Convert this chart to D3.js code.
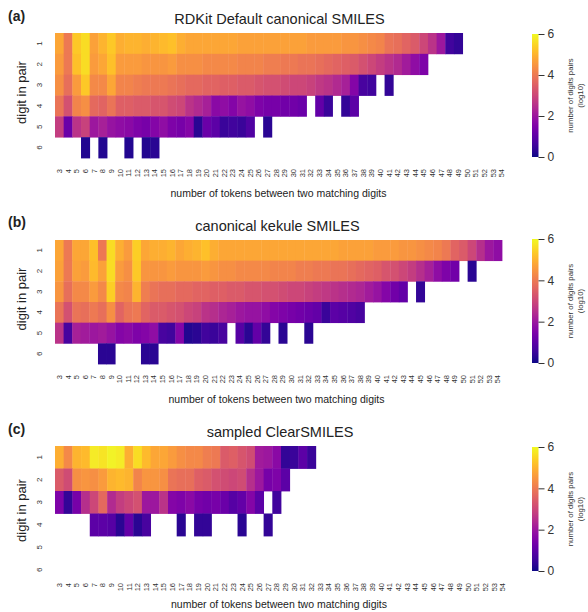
<!DOCTYPE html>
<html><head><meta charset="utf-8">
<script src="https://cdn.jsdelivr.net/npm/d3@7"></script>
<style>
body{margin:0;background:#fff;}
svg{font-family:"Liberation Sans",Arial,Helvetica,sans-serif;}
</style></head>
<body><svg id="chart" width="588" height="612"></svg>
<script>
// ---- data ----
const tokens = [3,4,5,6,7,8,9,10,11,12,13,14,15,16,17,18,19,20,21,22,23,24,25,26,27,28,29,30,
  31,32,33,34,35,36,37,38,39,40,41,42,43,44,45,46,47,48,49,50,51,52,53,54];
const digits = [1,2,3,4,5,6];
const colorTicks = [0,2,4,6];
const titles = ["RDKit Default canonical SMILES","canonical kekule SMILES","sampled ClearSMILES"];
const panelTags = ["(a)","(b)","(c)"];

// log10 counts, index 0 = 3 tokens; null = no pair
const rdkit1 = [4.8,4.0,5.3,5.6,4.7,5.0,5.3,4.9,5.0,5.0, 4.9,5.0,5.1,5.2,4.9,4.8,4.8,4.8,4.8,4.8,
  4.8,4.7,4.7,4.7,4.7,4.7,4.7,4.7,4.7,4.6, 4.6,4.6,4.6,4.5,4.5,4.4,4.3,4.2,3.9,3.8, 3.6,3.4,3.0,2.6,2.0,0.6,0.4];
const rdkit2 = [4.6,4.0,5.2,5.6,4.6,4.8,5.2,4.6,4.6,4.6, 4.5,4.5,4.5,4.6,4.4,4.4,4.4,4.3,4.3,4.3,
  4.3,4.2,4.2,4.2,4.1,4.1,4.0,4.0,3.9,3.9, 3.8,3.7,3.6,3.5,3.4,3.2,3.0,2.8,2.6,2.4, 2.1,1.8,1.5];
const rdkit3 = [4.4,3.8,4.6,5.3,4.3,4.3,4.8,4.2,4.2,4.1, 4.0,4.0,4.0,3.9,3.8,3.7,3.7,3.6,3.6,3.5,
  3.5,3.4,3.4,3.3,3.2,3.2,3.1,3.0,3.0,2.9, 2.7,2.6,2.4,2.2,1.6,0.7,0.6,null,0.4];
const rdkit4 = [3.9,3.2,4.2,4.4,3.7,3.6,3.9,3.5,3.5,3.4, 3.4,3.3,3.3,3.1,3.0,2.6,2.4,2.2,1.7,1.8,
  1.6,1.9,1.8,1.5,1.4,1.4,1.3,1.3,1.2,null, 1.1,0.5,null,0.4,1.0];
const rdkit5 = [2.8,1.2,2.6,2.9,2.0,2.2,1.9,1.8,1.7,1.5, 1.4,1.6,1.8,1.5,1.4,1.6,0.3,1.2,1.0,0.5,
  0.6,0.5,0.8,null,0.3];
const rdkit6 = [null,null,null,0.2,null,0.2,null,null,0.2,null, 0.2,0.3];

const kekule1 = [4.8,4.0,4.8,4.8,5.2,4.0,5.6,4.9,4.6,5.4, 4.8,4.9,4.9,5.0,4.8,4.9,5.0,5.2,4.9,4.8,
  4.8,4.8,4.8,4.8,4.8,4.8,4.8,4.8,4.8,4.8, 4.8,4.8,4.8,4.7,4.7,4.7,4.7,4.6,4.6,4.6,
  4.5,4.5,4.4,4.3,4.2,4.0,3.6,3.4,3.0,2.5, 2.0,1.8];
const kekule2 = [4.7,4.0,4.7,4.6,5.1,4.7,5.6,4.6,4.4,5.3, 4.5,4.5,4.5,4.6,4.5,4.5,4.5,4.6,4.5,4.4,
  4.4,4.3,4.3,4.3,4.3,4.2,4.2,4.2,4.1,4.1, 4.0,4.0,3.9,3.9,3.8,3.7,3.6,3.5,3.3,3.2,
  3.0,2.8,2.5,2.2,1.8,1.5,1.3,null,0.3];
const kekule3 = [4.5,3.8,4.3,4.3,4.6,4.3,5.4,4.3,4.2,5.0, 4.1,3.9,3.8,3.8,3.7,3.7,3.6,3.6,3.5,3.5,
  3.4,3.4,3.3,3.3,3.2,3.2,3.1,3.0,3.0,2.9, 2.8,2.7,2.6,2.5,2.4,2.3,2.1,1.9,1.6,1.3,
  1.1,null,0.4];
const kekule4 = [3.9,3.2,3.9,3.8,4.0,3.8,4.4,3.6,3.9,4.0, 3.6,3.4,3.4,3.3,3.2,3.0,2.9,2.6,2.5,2.3,
  2.2,2.0,1.9,1.9,1.8,1.6,1.5,1.4,1.3,1.2, 1.1,0.5,1.0,0.9,0.8,0.7];
const kekule5 = [2.6,0.7,2.2,2.1,2.0,2.1,1.9,1.6,1.7,1.5, 1.6,1.8,0.7,0.6,1.6,0.2,0.3,0.6,0.5,0.7,
  null,0.9,0.3,1.1,0.4,null,0.3,null,null,0.3];
const kekule6 = [null,null,null,null,null,0.3,0.3,null,null,null, 0.3,0.3];

const clear1 = [4.9,4.3,5.0,5.1,5.8,5.7,5.9,5.8,4.9,5.6, 5.1,4.8,4.8,4.6,4.4,4.3,4.3,4.1,4.0,3.4,
  3.5,3.3,3.1,2.1,2.0,1.7,0.4,0.5,1.0,0.5];
const clear2 = [3.4,3.1,4.4,4.5,4.4,4.6,5.0,5.1,5.0,4.2, 4.5,4.5,4.4,3.9,3.8,3.8,3.5,3.4,3.2,3.1,
  3.0,3.1,2.5,2.0,1.4,1.5,1.0];
const clear3 = [1.5,0.4,1.4,2.5,3.0,3.7,2.4,2.8,3.0,3.2, 2.0,2.0,2.6,1.6,1.5,1.7,1.4,1.3,1.4,1.2,
  0.9,1.1,1.6,1.0,null,0.6];
const clear4 = [null,null,null,null,1.0,1.0,0.9,0.3,1.1,0.3, 0.7,null,null,null,0.3,null,0.4,0.4,null,null,
  null,0.3,null,null,0.4];
const clear5 = [];
const clear6 = [];

const panelRows = [
  [rdkit1,rdkit2,rdkit3,rdkit4,rdkit5,rdkit6],
  [kekule1,kekule2,kekule3,kekule4,kekule5,kekule6],
  [clear1,clear2,clear3,clear4,clear5,clear6]
];

// ---- layout ----
const layout = [
  {top:33, bottom:158, x0:55, w:451, cbTop:34, cbBot:157, tagY:21, titleY:24, xtY:169, xlY:197},
  {top:240, bottom:364, x0:55, w:447, cbTop:239, cbBot:363, tagY:227, titleY:231, xtY:375, xlY:403},
  {top:446, bottom:581, x0:55, w:452, cbTop:447, cbBot:571, tagY:434, titleY:437, xtY:583, xlY:608}
];

const svg = d3.select("#chart");
const color = d3.scaleSequential(d3.interpolatePlasma).domain([0,6]);

const defs = svg.append("defs");
const grad = defs.append("linearGradient").attr("id","plasma")
  .attr("x1","0").attr("y1","1").attr("x2","0").attr("y2","0");
d3.range(0,1.0001,0.05).forEach(t=>{
  grad.append("stop").attr("offset",t).attr("stop-color",d3.interpolatePlasma(t));
});

layout.forEach((L,p)=>{
  const g = svg.append("g");
  const x = d3.scaleBand().domain(tokens).range([L.x0, L.x0+L.w]);
  const y = d3.scaleBand().domain(digits).range([L.top, L.bottom]);

  const cells = [];
  panelRows[p].forEach((row,ri)=>{
    row.forEach((v,ci)=>{ if(v!==null && v!==undefined) cells.push({d:digits[ri], t:tokens[ci], v}); });
  });
  g.selectAll("rect.cell").data(cells).join("rect").attr("class","cell")
    .attr("x",d=>x(d.t)).attr("y",d=>y(d.d))
    .attr("width",x.bandwidth()+0.4).attr("height",y.bandwidth()+0.4)
    .attr("fill",d=>color(d.v));

  // x axis
  const xa = g.append("g").attr("transform",`translate(0,${L.xtY})`)
    .call(d3.axisBottom(x).tickSize(0).tickPadding(0));
  xa.select(".domain").remove();
  xa.selectAll("text").attr("font-size",7.5).attr("fill","#333")
    .attr("transform","rotate(-90)").attr("text-anchor","end")
    .attr("x",0).attr("y",0).attr("dy","0.35em");

  // y axis
  const ya = g.append("g").attr("transform",`translate(${L.x0-16},0)`)
    .call(d3.axisLeft(y).tickSize(0).tickPadding(0));
  ya.select(".domain").remove();
  ya.selectAll("text").attr("font-size",8).attr("fill","#333")
    .attr("text-anchor","middle").attr("x",0).attr("y",0).attr("dy","0.35em")
    .attr("transform","rotate(-90)");

  // labels
  g.append("text").attr("x",8).attr("y",L.tagY).attr("font-size",14).attr("font-weight","bold")
    .attr("fill","#222").text(panelTags[p]);
  g.append("text").attr("x",L.x0+L.w/2 - 1).attr("y",L.titleY).attr("text-anchor","middle")
    .attr("font-size",14.5).attr("fill","#222").text(titles[p]);
  g.append("text").attr("x",L.x0+L.w/2 - 2).attr("y",L.xlY).attr("text-anchor","middle")
    .attr("font-size",10.5).attr("fill","#222").text("number of tokens between two matching digits");
  g.append("text").attr("transform",`translate(26,${(L.top+L.bottom)/2 - 3}) rotate(-90)`)
    .attr("text-anchor","middle").attr("font-size",13).attr("fill","#222").text("digit in pair");

  // colorbar
  const cbx = 532, cbw = 6.5;
  g.append("rect").attr("x",cbx).attr("y",L.cbTop).attr("width",cbw).attr("height",L.cbBot-L.cbTop)
    .attr("fill","url(#plasma)");
  const cs = d3.scaleLinear().domain([0,6]).range([L.cbBot, L.cbTop]);
  const ca = g.append("g").attr("transform",`translate(${cbx+cbw},0)`)
    .call(d3.axisRight(cs).tickValues(colorTicks).tickFormat(d3.format("d")).tickSize(6).tickPadding(3));
  ca.select(".domain").remove();
  ca.selectAll("line").attr("stroke","#333");
  ca.selectAll("text").attr("font-size",12).attr("fill","#333");
  const cm = (L.cbTop+L.cbBot)/2;
  g.append("text").attr("transform",`translate(573,${cm}) rotate(-90)`).attr("text-anchor","middle")
    .attr("font-size",7.8).attr("fill","#333").text("number of digits pairs");
  g.append("text").attr("transform",`translate(583,${cm}) rotate(-90)`).attr("text-anchor","middle")
    .attr("font-size",7.8).attr("fill","#333").text("(log10)");
});
</script></body></html>
